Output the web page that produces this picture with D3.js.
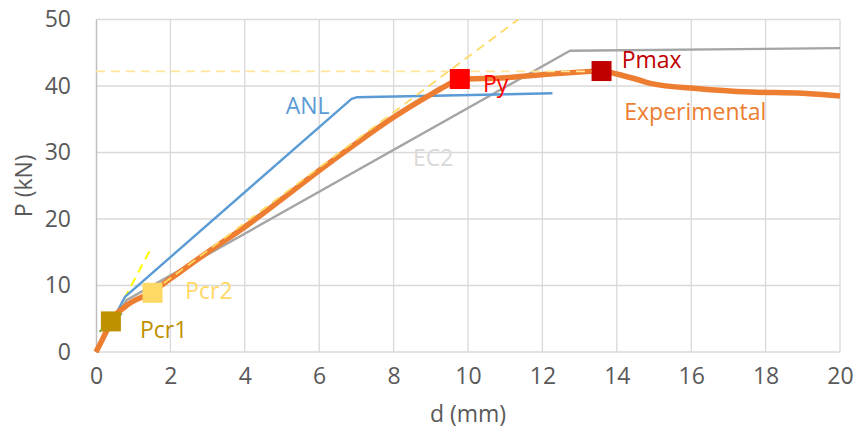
<!DOCTYPE html>
<html>
<head>
<meta charset="utf-8">
<script src="https://cdn.jsdelivr.net/npm/d3@7"></script>
<style>
  body { margin: 0; background: #fff; }
  svg text { font-family: "Open Sans", sans-serif; }
</style>
</head>
<body>
<div id="chart"></div>
<script>
// chart data (d in mm, P in kN)
const expD = [0, 0.2, 0.4, 0.8, 1.5, 2, 3, 4, 5, 6, 7, 8, 8.9, 9.4, 9.8, 10.9, 12.2, 13.3, 13.6, 14, 14.6, 14.9, 16.2, 17.6, 19, 20];
const expP = [0, 2.2, 4.6, 6.9, 9, 11, 15, 18.8, 23, 27.3, 31.4, 35.3, 38.4, 40, 41, 41.2, 41.8, 42.2, 42.3, 41.8, 40.9, 40.4, 39.6, 39.1, 38.9, 38.5];

const anlD = [0, 0.78, 6.87, 7.0, 12.27];
const anlP = [0, 8.3, 38.05, 38.3, 38.9];

const ec2D = [0, 0.82, 12.74, 20];
const ec2P = [0, 7.8, 45.3, 45.7];

const initD = [0, 1.5];          // bright yellow dashed tangent
const initP = [0, 15.8];
const secD = [1.5, 11.35];       // pale yellow dashed secant
const secP = [9, 50];
const maxD = [0, 13.6];          // pale yellow dashed Pmax level
const maxP = [42.2, 42.2];
const crD = [0.09, 0.7];         // green segment
const crP = [3.05, 5.8];

const pointNames = ['Pcr1', 'Pcr2', 'Py', 'Pmax'];
const pointD = [0.4, 1.52, 9.78, 13.59];
const pointP = [4.6, 8.9, 41.05, 42.25];
const pointColors = ['#BF9000', '#FFD966', '#FF0000', '#C00000'];

const xTicks = [0, 2, 4, 6, 8, 10, 12, 14, 16, 18, 20];
const yTicks = [0, 10, 20, 30, 40, 50];

const width = 857, height = 435;
const margin = { top: 19.5, right: 17, bottom: 83, left: 96 };
const plotW = width - margin.left - margin.right;
const plotH = height - margin.top - margin.bottom;

const svg = d3.select('#chart').append('svg')
  .attr('width', width)
  .attr('height', height);

const g = svg.append('g')
  .attr('transform', `translate(${margin.left},${margin.top})`);

const x = d3.scaleLinear().domain([0, 20]).range([0, plotW]);
const y = d3.scaleLinear().domain([0, 50]).range([plotH, 0]);

// grid
g.append('g')
  .selectAll('line.h')
  .data(yTicks)
  .join('line')
  .attr('x1', 0).attr('x2', plotW)
  .attr('y1', d => y(d)).attr('y2', d => y(d))
  .attr('stroke', '#d9d9d9').attr('stroke-width', 1.3);

g.append('g')
  .selectAll('line.v')
  .data(xTicks.slice(1))
  .join('line')
  .attr('x1', d => x(d)).attr('x2', d => x(d))
  .attr('y1', 0).attr('y2', plotH)
  .attr('stroke', '#d9d9d9').attr('stroke-width', 1.3);

// axes
const xAxis = g.append('g')
  .attr('transform', `translate(0,${plotH})`)
  .call(d3.axisBottom(x).tickValues(xTicks).tickSize(0).tickPadding(16));
xAxis.select('.domain').remove();

const yAxis = g.append('g')
  .call(d3.axisLeft(y).tickValues(yTicks).tickSize(0).tickPadding(25));
yAxis.select('.domain').attr('stroke', '#bfbfbf').attr('stroke-width', 1.5);

svg.selectAll('.tick text')
  .attr('fill', '#595959')
  .attr('font-size', 23)
  .attr('font-family', '"Open Sans", sans-serif');

const line = d3.line().x(d => x(d[0])).y(d => y(d[1]));
const zip = (a, b) => a.map((v, i) => [v, b[i]]);

// series
g.append('path').datum(zip(initD, initP)).attr('d', line)
  .attr('fill', 'none').attr('stroke', '#FFFF00').attr('stroke-width', 2)
  .attr('stroke-dasharray', '9,6');

g.append('path').datum(zip(crD, crP)).attr('d', line)
  .attr('fill', 'none').attr('stroke', '#70AD47').attr('stroke-width', 2);

g.append('path').datum(zip(ec2D, ec2P)).attr('d', line)
  .attr('fill', 'none').attr('stroke', '#A5A5A5').attr('stroke-width', 2.4)
  .attr('stroke-linejoin', 'round');

g.append('path').datum(zip(anlD, anlP)).attr('d', line)
  .attr('fill', 'none').attr('stroke', '#5B9BD5').attr('stroke-width', 2.4)
  .attr('stroke-linejoin', 'round');

g.append('path').datum(zip(expD, expP)).attr('d', d3.line().curve(d3.curveMonotoneX).x(d => x(d[0])).y(d => y(d[1])))
  .attr('fill', 'none').attr('stroke', '#ED7D31').attr('stroke-width', 5.5)
  .attr('stroke-linejoin', 'round');

g.append('path').datum(zip(secD, secP)).attr('d', line)
  .attr('fill', 'none').attr('stroke', '#FFD966').attr('stroke-width', 1.8)
  .attr('stroke-dasharray', '9,6');

g.append('path').datum(zip(maxD, maxP)).attr('d', line)
  .attr('fill', 'none').attr('stroke', '#FFE699').attr('stroke-width', 1.8)
  .attr('stroke-dasharray', '9,6');

// markers
const sq = 20;
g.selectAll('rect.pt')
  .data(pointNames)
  .join('rect')
  .attr('x', (d, i) => x(pointD[i]) - sq / 2)
  .attr('y', (d, i) => y(pointP[i]) - sq / 2)
  .attr('width', sq).attr('height', sq)
  .attr('fill', (d, i) => pointColors[i]);

// labels
const labels = [
  { t: 'Pcr1', d: 1.18, p: 2.1, c: '#BF9000' },
  { t: 'Pcr2', d: 2.4, p: 8.0, c: '#FFD966' },
  { t: 'Py', d: 10.4, p: 39.1, c: '#FF0000' },
  { t: 'Pmax', d: 14.13, p: 42.7, c: '#C00000' },
  { t: 'Experimental', d: 14.2, p: 34.9, c: '#ED7D31' },
  { t: 'ANL', d: 5.1, p: 35.8, c: '#5B9BD5' },
  { t: 'EC2', d: 8.52, p: 28, c: '#D9D9D9' }
];
g.selectAll('text.lbl')
  .data(labels)
  .join('text')
  .attr('x', d => x(d.d))
  .attr('y', d => y(d.p))
  .attr('fill', d => d.c)
  .attr('font-size', 23)
  .text(d => d.t);

// axis titles
svg.append('text')
  .attr('x', margin.left + plotW / 2)
  .attr('y', 422)
  .attr('text-anchor', 'middle')
  .attr('fill', '#595959')
  .attr('font-size', 23)
  .text('d (mm)');

svg.append('text')
  .attr('transform', `translate(32,${margin.top + plotH / 2}) rotate(-90)`)
  .attr('text-anchor', 'middle')
  .attr('fill', '#595959')
  .attr('font-size', 23)
  .text('P (kN)');
</script>
</body>
</html>
